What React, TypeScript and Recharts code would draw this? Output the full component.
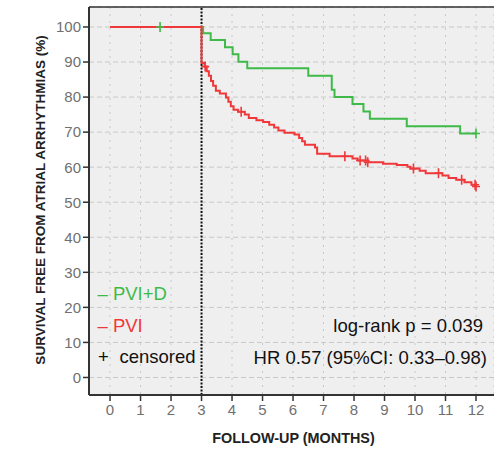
import { ComposedChart, Line, Scatter, XAxis, YAxis, CartesianGrid, ReferenceLine } from 'recharts';

// PVI+D (green) step curve
const greenTimes = [0, 3.05, 3.3, 3.77, 4.02, 4.21, 4.5, 6.5, 7.27, 7.36, 7.95, 8.31, 8.52, 9.73, 11.48, 12.0];
const greenSurvival = [100, 98.2, 96.3, 94.2, 92.2, 90.1, 88.2, 86.1, 82.1, 80.0, 78.0, 75.9, 73.8, 71.7, 69.6, 69.6];
const greenCensorTimes = [1.64, 12.0];
const greenCensorSurvival = [100, 69.6];

// PVI (red) step curve
const redTimes = [
  0, 3.0, 3.1, 3.17, 3.24, 3.31, 3.38, 3.47, 3.6, 3.8, 3.88, 3.96, 4.05, 4.2, 4.42, 4.55, 4.8, 5.02, 5.22, 5.38,
  5.52, 5.72, 6.05, 6.2, 6.3, 6.39, 6.72, 6.79, 7.2, 7.95, 8.12, 8.45, 8.95, 9.4, 9.75, 9.85, 10.15, 10.35, 10.9,
  11.1, 11.35, 11.62, 11.85, 12.0,
];
const redSurvival = [
  100, 89.7, 88.7, 87.4, 86.1, 84.6, 83.2, 81.8, 81.0, 79.9, 78.7, 77.4, 76.4, 75.8, 75.0, 74.0, 73.4, 72.9, 72.1, 71.3,
  70.5, 69.8, 69.3, 68.3, 67.4, 66.4, 65.6, 63.8, 63.1, 62.5, 61.9, 61.4, 61.0, 60.6, 60.1, 59.6, 59.0, 58.3, 57.6,
  56.9, 56.4, 55.7, 55.0, 54.5,
];
const redCensorTimes = [3.12, 4.3, 7.7, 8.2, 8.38, 8.45, 9.95, 10.77, 11.53, 11.97, 12.0];
const redCensorSurvival = [88.7, 75.8, 63.1, 61.9, 61.9, 61.4, 59.6, 58.3, 56.4, 55.0, 54.5];

const monthTicks = [0, 1, 2, 3, 4, 5, 6, 7, 8, 9, 10, 11, 12];
const percentTicks = [0, 10, 20, 30, 40, 50, 60, 70, 80, 90, 100];

const GREEN = '#3fba48';
const RED = '#f0383a';
const FONT = '"Liberation Sans", Arial, sans-serif';
const X_MAX = 12.59;
const Y_MAX = 105.7;

const toPoints = (times: number[], values: number[]) => times.map((t, i) => ({ t, v: values[i] }));

const greenData = toPoints(greenTimes, greenSurvival);
const redData = toPoints(redTimes, redSurvival);
const greenCensor = toPoints(greenCensorTimes, greenCensorSurvival);
const redCensor = toPoints(redCensorTimes, redCensorSurvival);

const plusShape = (color: string) => (props: any) => {
  const { cx, cy } = props;
  return <path d={`M${cx - 4},${cy}h8M${cx},${cy - 5}v10`} stroke={color} strokeWidth={1.6} fill="none" />;
};

export default function App() {
  return (
    <div style={{ position: 'absolute', left: 0, top: 0, width: 494, height: 450, background: '#fff', fontFamily: FONT }}>
      <ComposedChart width={494} height={450} margin={{ top: 7, right: 0, bottom: 0, left: 0 }}>
        <CartesianGrid vertical={false} stroke="#c8c8c8" strokeDasharray="5 3" fill="#efefef" />
        <CartesianGrid horizontal={false} stroke="#c8c8c8" strokeDasharray="2 5" />
        <XAxis
          type="number"
          dataKey="t"
          domain={[-0.69, X_MAX]}
          ticks={monthTicks}
          interval={0}
          allowDataOverflow
          height={55}
          tickSize={6}
          tickMargin={3}
          axisLine={{ stroke: '#333', strokeWidth: 2 }}
          tickLine={{ stroke: '#333', strokeWidth: 1.5 }}
          tick={{ fill: '#707070', fontSize: 15, fontFamily: FONT }}
        />
        <YAxis
          type="number"
          dataKey="v"
          domain={[-5, Y_MAX]}
          ticks={percentTicks}
          interval={0}
          allowDataOverflow
          width={89}
          tickSize={6}
          tickMargin={2}
          axisLine={{ stroke: '#333', strokeWidth: 2 }}
          tickLine={{ stroke: '#333', strokeWidth: 1.5 }}
          tick={{ fill: '#707070', fontSize: 15, fontFamily: FONT }}
        />
        <ReferenceLine y={Y_MAX} stroke="#333" strokeWidth={1.5} />
        <ReferenceLine x={3} stroke="#111" strokeWidth={2} strokeDasharray="2 1.5" />
        <Line data={greenData} dataKey="v" type="stepAfter" stroke={GREEN} strokeWidth={2} dot={false} isAnimationActive={false} />
        <Line data={redData} dataKey="v" type="stepAfter" stroke={RED} strokeWidth={2} dot={false} isAnimationActive={false} />
        <Scatter data={greenCensor} dataKey="v" shape={plusShape(GREEN)} isAnimationActive={false} />
        <Scatter data={redCensor} dataKey="v" shape={plusShape(RED)} isAnimationActive={false} />
      </ComposedChart>
      <svg width={494} height={450} style={{ position: 'absolute', left: 0, top: 0, pointerEvents: 'none' }} fontFamily={FONT}>
        <text x={45} y={200} transform="rotate(-90 45 200)" textAnchor="middle" fontSize={13.5} fontWeight="bold" fill="#222">
          SURVIVAL FREE FROM ATRIAL ARRHYTHMIAS (%)
        </text>
        <text x={293.5} y={443} textAnchor="middle" fontSize={14.4} fontWeight="bold" fill="#222">
          FOLLOW-UP (MONTHS)
        </text>
        <text x={97.5} y={300} fontSize={18.5} fill={GREEN}>– PVI+D</text>
        <text x={97.5} y={332} fontSize={18.5} fill={RED}>– PVI</text>
        <text x={98} y={363} fontSize={18.5} fill="#111">+</text>
        <text x={119.5} y={363} fontSize={18.5} fill="#111">censored</text>
        <text x={483} y={332} textAnchor="end" fontSize={18.5} fill="#111">log-rank p = 0.039</text>
        <text x={487} y={364} textAnchor="end" fontSize={18.5} fill="#111">HR 0.57 (95%CI: 0.33–0.98)</text>
      </svg>
    </div>
  );
}
